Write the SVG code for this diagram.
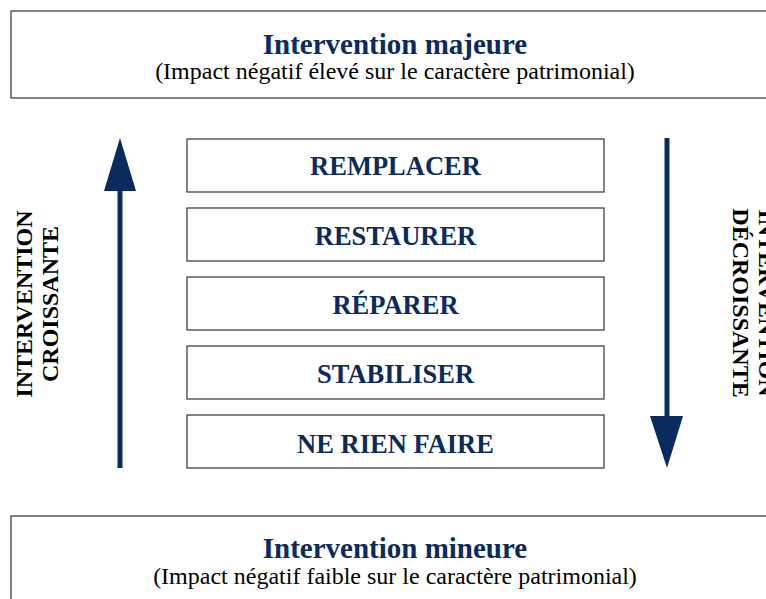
<svg xmlns="http://www.w3.org/2000/svg" width="766" height="599" viewBox="0 0 766 599">
<style>
.frame{fill:#fff;stroke:#333;stroke-width:1.2}
.box{fill:#fff;stroke:#333;stroke-width:1.2}
.title{font-family:"Liberation Serif",serif;font-weight:bold;font-size:29px;fill:#0b2a5e;text-anchor:middle}
.sub{font-family:"Liberation Serif",serif;font-size:24px;fill:#000;text-anchor:middle}
.lbl{font-family:"Liberation Serif",serif;font-weight:bold;font-size:26.5px;fill:#0b2a5e;text-anchor:middle}
.side{font-family:"Liberation Serif",serif;font-weight:bold;font-size:24px;fill:#000;text-anchor:middle}
.arrow{fill:#0b2a5e}
</style>
<rect width="766" height="599" fill="#fff"/>
<g id="top">
<rect class="frame" x="11" y="11" width="770" height="87"/>
<text class="title" x="395" y="54">Intervention majeure</text>
<text class="sub" x="395" y="79">(Impact négatif élevé sur le caractère patrimonial)</text>
</g>
<g id="bottom">
<rect class="frame" x="11" y="516" width="770" height="100"/>
<text class="title" x="395" y="558">Intervention mineure</text>
<text class="sub" x="395" y="584">(Impact négatif faible sur le caractère patrimonial)</text>
</g>
<g id="remplacer"><rect class="box" x="187" y="139" width="417" height="53"/><text class="lbl" x="395.5" y="175">REMPLACER</text></g>
<g id="restaurer"><rect class="box" x="187" y="208" width="417" height="53"/><text class="lbl" x="395.5" y="245">RESTAURER</text></g>
<g id="reparer"><rect class="box" x="187" y="277" width="417" height="53"/><text class="lbl" x="395.5" y="314">RÉPARER</text></g>
<g id="stabiliser"><rect class="box" x="187" y="346" width="417" height="53"/><text class="lbl" x="395.5" y="383">STABILISER</text></g>
<g id="nerienfaire"><rect class="box" x="187" y="415" width="417" height="53"/><text class="lbl" x="395.5" y="453">NE RIEN FAIRE</text></g>
<g id="connectors">
<rect class="arrow" x="117.5" y="188" width="5" height="280"/>
<polygon class="arrow" points="120,138 136,191 104,191"/>
<rect class="arrow" x="664.5" y="138" width="5" height="280"/>
<polygon class="arrow" points="650,416 683,416 667,468"/>
</g>
<g id="label-left">
<text class="side" transform="translate(32,304) rotate(-90)">INTERVENTION</text>
<text class="side" transform="translate(58,304) rotate(-90)">CROISSANTE</text>
</g>
<g id="label-right">
<text class="side" transform="translate(759,303) rotate(90)">INTERVENTION</text>
<text class="side" transform="translate(733,303) rotate(90)">DÉCROISSANTE</text>
</g>
</svg>
